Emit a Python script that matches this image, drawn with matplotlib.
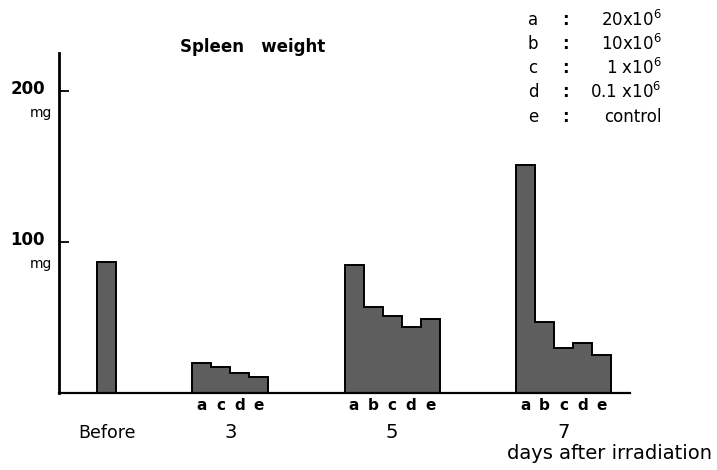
import matplotlib
matplotlib.use('Agg')
import matplotlib.pyplot as plt

# spleen weight (mg) per group
before_val = [87]
day3_groups = ['a', 'c', 'd', 'e']
day3_vals = [20, 17.5, 13.5, 10.5]
day5_groups = ['a', 'b', 'c', 'd', 'e']
day5_vals = [85, 57, 51, 44, 49]
day7_groups = ['a', 'b', 'c', 'd', 'e']
day7_vals = [151, 47, 30, 33, 25]

day_labels = ['Before', '3', '5', '7']
legend_keys = ['a', 'b', 'c', 'd', 'e']
legend_doses = [r'20x10$^{6}$', r'10x10$^{6}$', r'1 x10$^{6}$', r'0.1 x10$^{6}$', 'control']

plt.rcParams['font.family'] = 'DejaVu Sans'

fig = plt.figure(figsize=(7.17, 4.70), dpi=100)
ax = fig.add_axes([59 / 717, 1 - 393.3 / 470, 571 / 717, 340.3 / 470])

# left edge of each group, one unit per bar
starts = [2, 7, 15, 24]
groups = [None, day3_groups, day5_groups, day7_groups]
vals = [before_val, day3_vals, day5_vals, day7_vals]

for s, g, v, lab in zip(starts, groups, vals, day_labels):
    xs = [s + i for i in range(len(v))]
    ax.bar(xs, v, width=1.0, align='edge', color='#5e5e5e', linewidth=0)
    # one outline round the whole group, no lines between bars
    ax.stairs(v, [s + i for i in range(len(v) + 1)], baseline=0,
              color='black', linewidth=1.4)
    if g is not None:
        for x, letter in zip(xs, g):
            ax.text(x + 0.5, -8, letter, ha='center', va='center', fontsize=11, fontweight='bold')
    ax.text(s + len(v) / 2, -26, lab, ha='center', va='center',
            fontsize=12.5 if lab == 'Before' else 14)

ax.text(34.3, -39.5, 'days after irradiation', ha='right', va='center', fontsize=14,
        clip_on=False)

ax.set_xlim(0, 30)
ax.set_ylim(0, 225)

for side in ['top', 'right']:
    ax.spines[side].set_visible(False)
ax.spines['left'].set_linewidth(2.0)
ax.spines['bottom'].set_linewidth(1.6)

ax.set_xticks([])
ax.set_yticks([100, 200])
ax.set_yticklabels([])
ax.tick_params(axis='y', direction='in', length=7, width=1.3)

# tick values with unit underneath
for v in [100, 200]:
    ax.annotate(str(v), xy=(0, v), xycoords=('axes fraction', 'data'),
                xytext=(-14, 2), textcoords='offset pixels',
                ha='right', va='center', fontsize=12, fontweight='bold')
    ax.annotate('mg', xy=(0, v), xycoords=('axes fraction', 'data'),
                xytext=(-7, -22), textcoords='offset pixels',
                ha='right', va='center', fontsize=10)

fig.text(253 / 717, 1 - 47 / 470, 'Spleen   weight', ha='center', va='center',
         fontsize=12, fontweight='bold')

legend_y = [20, 44, 68, 92, 117]
for key, dose, y in zip(legend_keys, legend_doses, legend_y):
    fig.text(533 / 717, 1 - y / 470, key, ha='center', va='center', fontsize=12)
    fig.text(565 / 717, 1 - y / 470, ':', ha='center', va='center', fontsize=12, fontweight='bold')
    fig.text(662 / 717, 1 - y / 470, dose, ha='right', va='center', fontsize=12)

fig.savefig('out.png', dpi=100)
